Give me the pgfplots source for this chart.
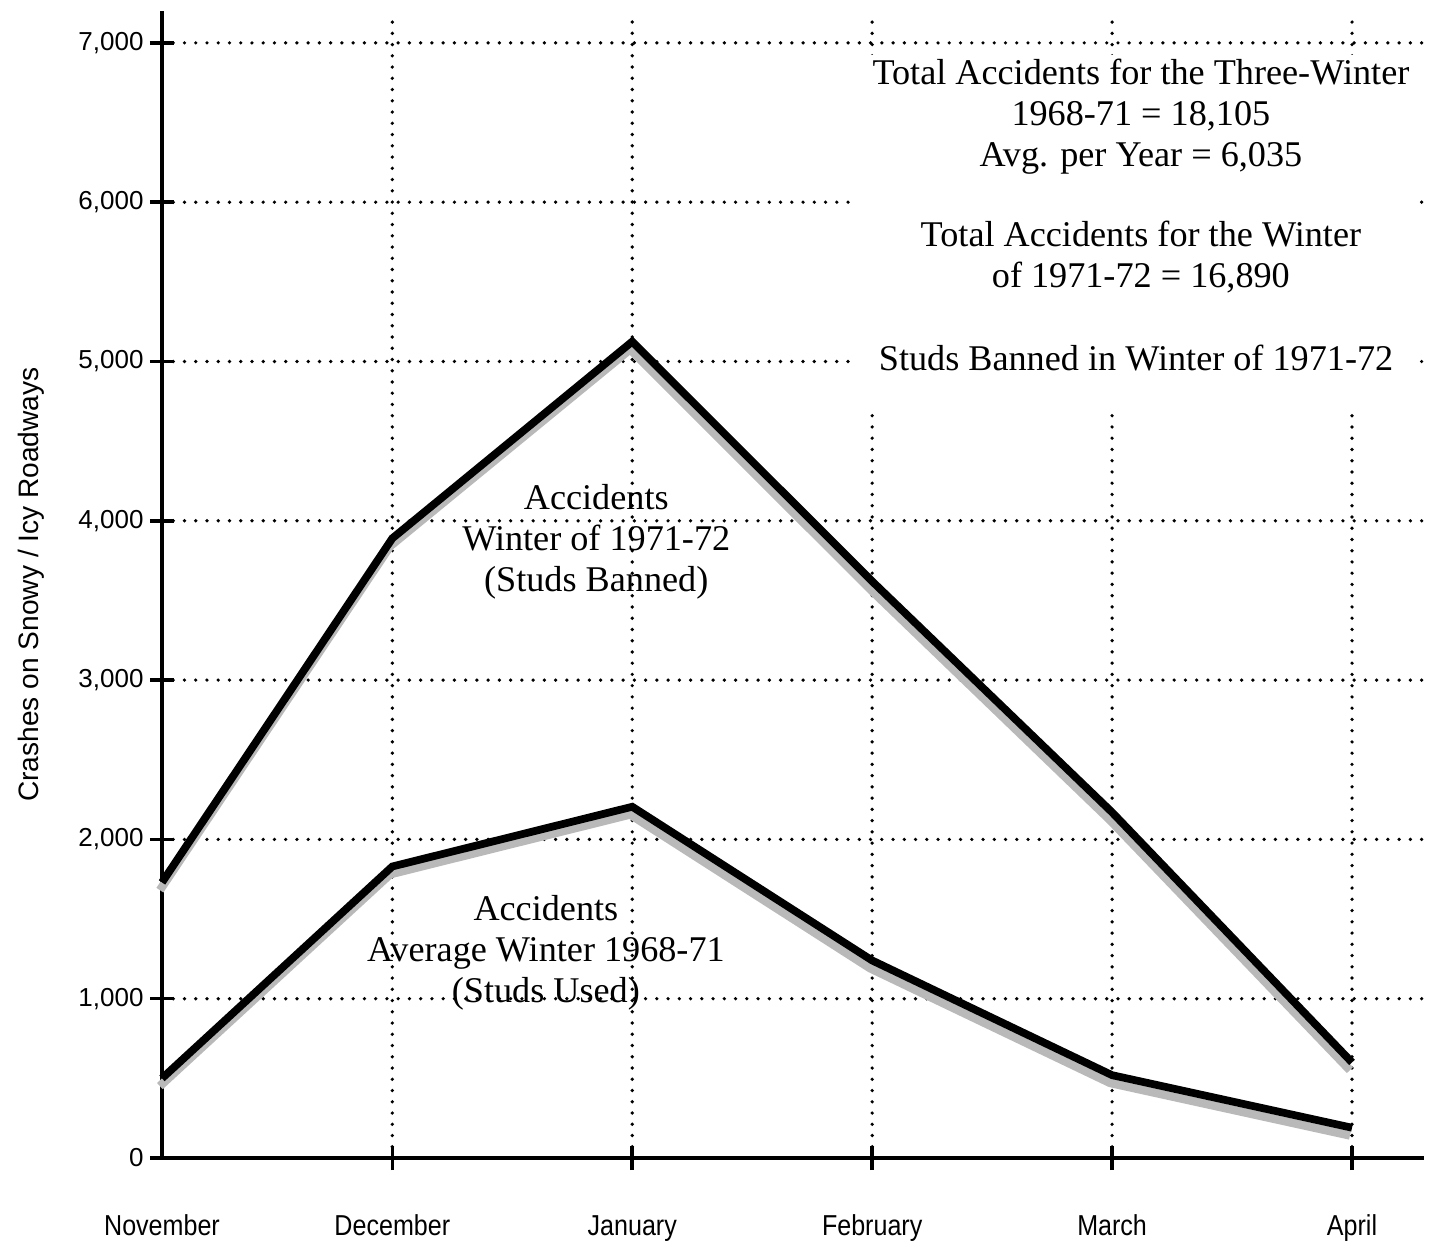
\documentclass[border=0pt]{standalone}
\usepackage{fontspec}
\setmainfont{Liberation Serif}
\newfontfamily\sans{Liberation Sans}
\newfontfamily\narrowsans[FakeStretch=0.87]{Liberation Sans}
\usepackage{pgfplots}
\pgfplotsset{compat=1.18}

\begin{document}
\begin{tikzpicture}
\path[use as bounding box] (-16.2mm,-8.2mm) rectangle (127.5mm,115.8mm);
\begin{axis}[
    at={(0,0)}, anchor=south west,
    scale only axis, width=126.2mm, height=114.7mm,
    xmin=0.04, xmax=5.3, ymin=0, ymax=7200,
    axis x line=bottom, axis y line=left,
    axis line style={-, line width=1pt},
    xtick={1,2,3,4,5},
    xticklabels={December,January,February,March,April},
    extra x ticks={0.04}, extra x tick labels={November},
    extra x tick style={grid=none, tick style={draw=none}},
    ytick={0,1000,...,7000},
    tick align=center, major tick length=2.4mm,
    tick style={black, line width=1pt},
    grid=major,
    major grid style={black, line width=1.05pt, dash pattern=on 0pt off 3.2pt, line cap=round},
    xticklabel style={font=\narrowsans\fontsize{8.2}{9}\selectfont, yshift=-2.7mm,
      text height=1.6ex, text depth=0.45ex},
    yticklabel style={font=\sans\fontsize{7.4}{8}\selectfont, xshift=0.6mm},
    /pgf/number format/1000 sep={,},
    /pgf/number format/assume math mode=true,
    ylabel={Crashes on Snowy / Icy Roadways},
    ylabel style={font=\sans\fontsize{8}{10}\selectfont, at={(axis description cs:-0.104,0.5)}, anchor=center},
    clip=false,
  ]

  % white box behind the summary text
  \fill[white] (axis cs:2.93,4696) rectangle (axis cs:5.27,6924);

  % winter 1971-72, studs banned
  \addplot[draw=gray!55, line width=2.4pt, line join=miter, yshift=-2.2pt, xshift=-0.6pt] coordinates {
    (0.04,1730) (1,3890) (2,5125) (3,3620) (4,2170) (5,600)
  };
  \addplot[black, line width=2.2pt, line join=miter] coordinates {
    (0.04,1730) (1,3890) (2,5125) (3,3620) (4,2170) (5,600)
  };

  % average winter 1968-71, studs used
  \addplot[draw=gray!55, line width=2.4pt, line join=miter, yshift=-2.2pt, xshift=-0.6pt] coordinates {
    (0.04,500) (1,1830) (2,2205) (3,1240) (4,520) (5,190)
  };
  \addplot[black, line width=2.2pt, line join=miter] coordinates {
    (0.04,500) (1,1830) (2,2205) (3,1240) (4,520) (5,190)
  };

  \node[align=center, font=\fontsize{10.3}{11.7}\selectfont] at (axis cs:4.12,6535)
    {Total Accidents for the Three-Winter\\1968-71 = 18,105\\Avg. per Year = 6,035};
  \node[align=center, font=\fontsize{10.3}{11.7}\selectfont] at (axis cs:4.12,5656)
    {Total Accidents for the Winter\\of 1971-72 = 16,890};
  \node[font=\fontsize{10.3}{11.7}\selectfont] at (axis cs:4.10,5022)
    {Studs Banned in Winter of 1971-72};

  \node[align=center, font=\fontsize{10.3}{11.7}\selectfont] at (axis cs:1.85,3867)
    {Accidents\\Winter of 1971-72\\(Studs Banned)};
  \node[align=center, font=\fontsize{10.3}{11.7}\selectfont] at (axis cs:1.64,1287)
    {Accidents\\Average Winter 1968-71\\(Studs Used)};
\end{axis}
\end{tikzpicture}
\end{document}
